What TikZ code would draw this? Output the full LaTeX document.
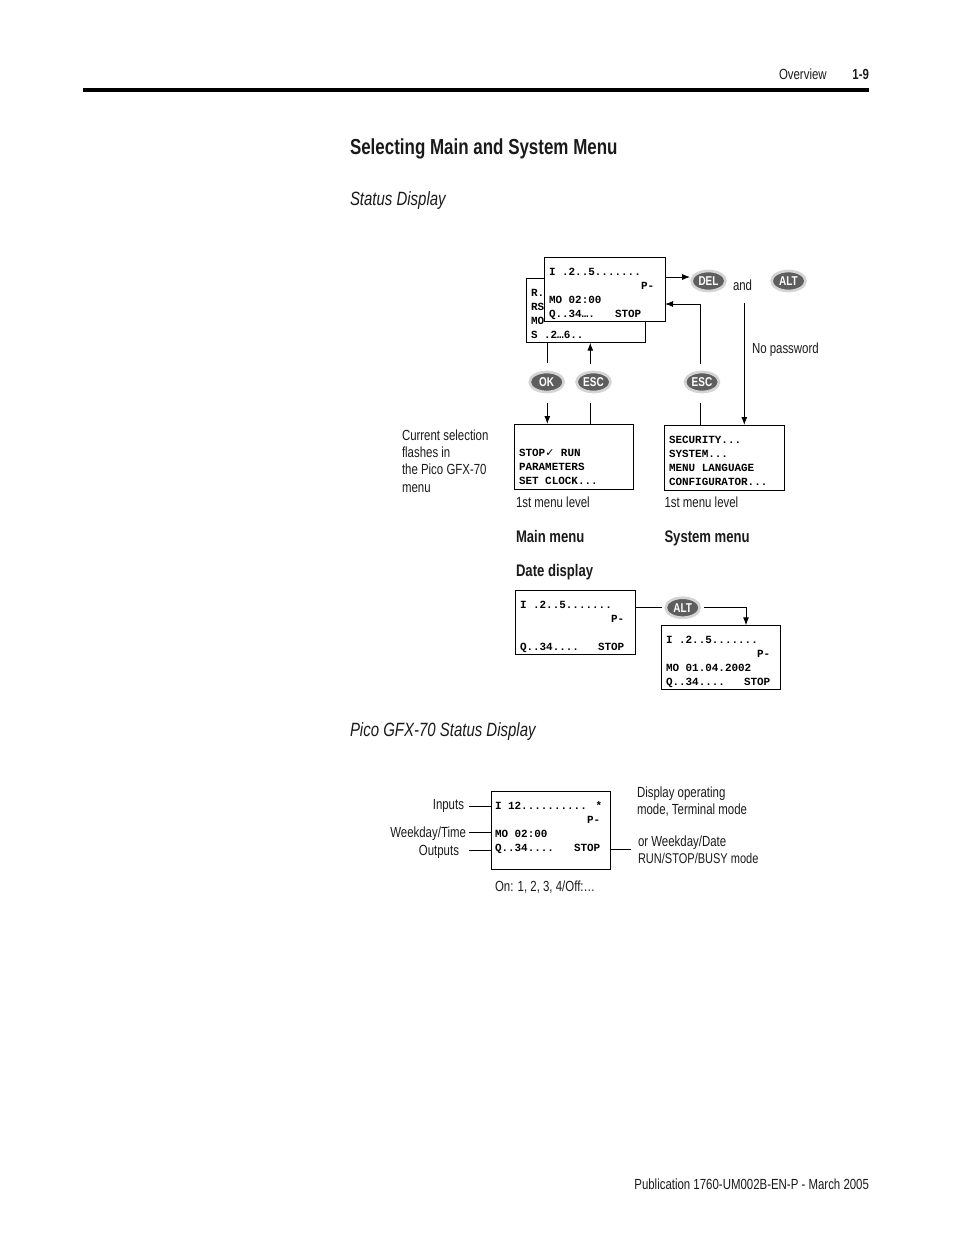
\documentclass[tikz,border=0pt]{standalone}
\usepackage{fontspec}
\usetikzlibrary{shapes.geometric,arrows.meta}
\setmainfont{Liberation Sans}[FakeStretch=0.78]
\newfontfamily\lcdfont{Liberation Mono}[BoldFont={Liberation Mono Bold}]
\newfontfamily\tickfont{DejaVu Sans}
\definecolor{btnin}{HTML}{5E5E5E}
\definecolor{btnout}{HTML}{D4D4D4}
\definecolor{ink}{HTML}{1A1A1A}
\tikzset{
  txt/.style={inner sep=0pt,outer sep=0pt,text=ink,text height=0.72em,text depth=0.02em,font=\fontsize{11pt}{12pt}\selectfont},
  lbl/.style={txt,anchor=west},
  lblr/.style={txt,anchor=east},
  boldlbl/.style={txt,anchor=west,font=\fontsize{12.6pt}{14pt}\selectfont\bfseries},
  head/.style={txt,anchor=west,font=\fontsize{16.3pt}{18pt}\selectfont\bfseries},
  ital/.style={txt,anchor=west,font=\fontsize{14.4pt}{16pt}\selectfont\itshape},
  lcdtxt/.style={inner sep=0pt,outer sep=0pt,anchor=west,text=black,text height=0.6em,text depth=0.1em,font=\fontsize{8.2pt}{9pt}\lcdfont\bfseries},
  lcd/.style={draw=black,fill=white,line width=0.75pt,inner sep=0pt,outer sep=0pt,minimum width=#1*0.75pt},
  btn/.style={ellipse,draw=btnout,fill=btnin,line width=2pt,inner sep=0pt,outer sep=0pt,minimum width=25.5pt,minimum height=15pt,text=white,font=\fontsize{9.6pt}{11pt}\selectfont\bfseries},
  conn/.style={draw=black,line width=0.75pt},
  arr/.style={conn,-{Latex[length=6pt,width=4.5pt]}},
}
\newcommand{\lcdline}[4]{\node[lcdtxt] (#1) at (#2,#3) {#4};}
\begin{document}
\begin{tikzpicture}[x=0.75pt,y=-0.75pt]
\useasboundingbox (0,0) rectangle (954,1235);
% page furniture
\fill[black] (83,88) rectangle (869,92);
\node[lbl] (hover) at (779,75) {Overview};
\node[txt,anchor=east,font=\fontsize{11pt}{12pt}\selectfont\bfseries] (hpage) at (869,75) {1-9};
\node[head] (title) at (350,150) {Selecting Main and System Menu};
\node[ital] (status) at (350,201) {Status Display};
\node[ital] (pico) at (350,732) {Pico GFX-70 Status Display};
\node[txt,anchor=east] (pub) at (869,1185) {Publication 1760-UM002B-EN-P - March 2005};

% stacked displays
\node[lcd=119.7,minimum height=64.7*0.75pt] (back) at (585.85,310.35) {};
\lcdline{b1}{531}{293}{R.}
\lcdline{b2}{531}{307}{RS}
\lcdline{b3}{531}{321}{MO}
\lcdline{b4}{531}{335}{S .2…6..}
\node[lcd=120.7,minimum height=63.3*0.75pt] (front) at (604.65,289.35) {};
\lcdline{f1}{549}{272}{I .2..5.......}
\lcdline{f2}{641}{286}{P-}
\lcdline{f3}{549}{300}{MO 02:00}
\lcdline{f4}{549}{314}{Q..34….}
\lcdline{f5}{615}{314}{STOP}

% menu displays
\node[lcd=119.2,minimum height=65*0.75pt] (main) at (573.9,456.5) {};
\lcdline{m1}{519}{453}{STOP{\tickfont\char"2713} RUN}
\lcdline{m2}{519}{467}{PARAMETERS}
\lcdline{m3}{519}{481}{SET CLOCK...}
\node[lcd=119.3,minimum height=65*0.75pt] (sys) at (724.35,457.5) {};
\lcdline{s1}{669}{440}{SECURITY...}
\lcdline{s2}{669}{454}{SYSTEM...}
\lcdline{s3}{669}{468}{MENU LANGUAGE}
\lcdline{s4}{669}{482}{CONFIGURATOR...}

% date displays
\node[lcd=120.4,minimum height=63.6*0.75pt] (d1) at (575.5,622.5) {};
\lcdline{da1}{520}{605}{I .2..5.......}
\lcdline{da2}{611}{619}{P-}
\lcdline{da3}{520}{647}{Q..34....}
\lcdline{da4}{598}{647}{STOP}
\node[lcd=119,minimum height=64*0.75pt] (d2) at (721.2,657.3) {};
\lcdline{db1}{666}{640}{I .2..5.......}
\lcdline{db2}{757}{654}{P-}
\lcdline{db3}{666}{668}{MO 01.04.2002}
\lcdline{db4}{666}{682}{Q..34....}
\lcdline{db5}{744}{682}{STOP}

% GFX-70 display
\node[lcd=119.7,minimum height=77.3*0.75pt] (gfx) at (550.85,830.35) {};
\lcdline{g1}{495}{806}{I 12.......... *}
\lcdline{g2}{587}{820}{P-}
\lcdline{g3}{495}{834}{MO 02:00}
\lcdline{g4}{495}{848}{Q..34....}
\lcdline{g5}{574}{848}{STOP}

% buttons
\node[btn] (del) at (708.5,281) {DEL};
\node[btn] (alt) at (788.5,281) {ALT};
\node[btn] (ok) at (546.7,382) {OK};
\node[btn] (esca) at (593.5,382) {ESC};
\node[btn] (escb) at (702,382) {ESC};
\node[btn] (altb) at (682.7,607.7) {ALT};

% free line ends
\coordinate (okx) at (547.3,382);
\coordinate (escax) at (590.3,382);
\coordinate (escbx) at (700.5,382);
\coordinate (altx) at (744.3,303);
\coordinate (turn) at (746,607.7);
\coordinate (frontin) at (700.5,304);
\coordinate (inl) at (469.3,806);
\coordinate (wtl) at (469.3,832.7);
\coordinate (outl) at (469.3,850.7);
\coordinate (rl) at (630.7,849);

% connectors
\draw[arr,shorten >=1pt] (front.east |- 0,277) -- (del.west |- 0,277);
\draw[arr] (altx) -- (sys.north -| altx);
\draw[conn] (back.south -| okx) -- (547.3,363);
\draw[arr] (547.3,403) -- (main.north -| okx);
\draw[arr] (590.3,364) -- (back.south -| escax);
\draw[conn] (main.north -| escax) -- (590.3,403);
\draw[arr] (700.5,364) -- (frontin) -- (front.east |- frontin);
\draw[conn] (sys.north -| escbx) -- (700.5,403);
\draw[conn] (d1.east |- altb) -- (662,607.7);
\draw[arr] (704,607.7) -- (turn) -- (d2.north -| turn);
\draw[conn] (inl) -- (gfx.west |- inl);
\draw[conn] (wtl) -- (gfx.west |- wtl);
\draw[conn] (outl) -- (gfx.west |- outl);
\draw[conn] (gfx.east |- rl) -- (rl);

% labels
\node[lbl] (land) at (733,285.5) {and};
\node[lbl] (lnop) at (752,348.5) {No password};
\node[lbl] (lc1) at (402,435.5) {Current selection};
\node[lbl] (lc2) at (402,453) {flashes in};
\node[lbl] (lc3) at (402,470) {the Pico GFX-70};
\node[lbl] (lc4) at (402,487.5) {menu};
\node[lbl] (l1a) at (516,503) {1st menu level};
\node[lbl] (l1b) at (664.5,503) {1st menu level};
\node[boldlbl] (lmain) at (516,538) {Main menu};
\node[boldlbl] (lsys) at (664.5,538) {System menu};
\node[boldlbl] (ldate) at (516,572) {Date display};
\node[lblr] (lin) at (464,804.5) {Inputs};
\node[lblr] (lwt) at (466,833) {Weekday/Time};
\node[lblr] (lout) at (459,850.5) {Outputs};
\node[lbl] (lr1) at (637,792.5) {Display operating};
\node[lbl] (lr2) at (637,809.5) {mode, Terminal mode};
\node[lbl] (lr3) at (638,841.5) {or Weekday/Date};
\node[lbl,font=\fontsize{10.6pt}{12pt}\selectfont] (lr4) at (638,858.5) {RUN/STOP/BUSY mode};
\node[lbl] (lon) at (495,887) {On: 1, 2, 3, 4/Off:…};
\end{tikzpicture}
\end{document}
